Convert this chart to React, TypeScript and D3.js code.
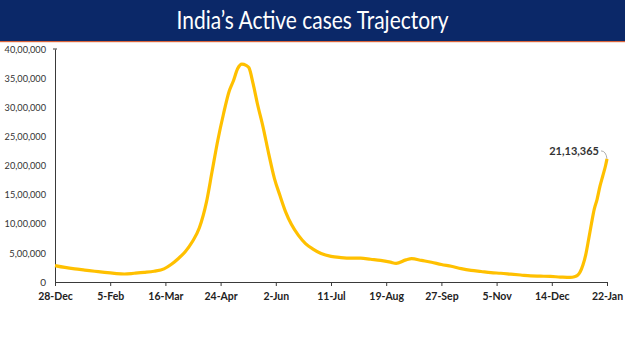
import { useEffect, useRef } from "react";
import * as d3 from "d3";

const dates = [
  "2020-12-28", "2021-01-04", "2021-01-11", "2021-01-18", "2021-01-25", "2021-02-01",
  "2021-02-08", "2021-02-15", "2021-02-22", "2021-03-01", "2021-03-08", "2021-03-15",
  "2021-03-20", "2021-03-25", "2021-03-30", "2021-04-04", "2021-04-09", "2021-04-14",
  "2021-04-18", "2021-04-22", "2021-04-26", "2021-04-30", "2021-05-03", "2021-05-06",
  "2021-05-09", "2021-05-12", "2021-05-14", "2021-05-17", "2021-05-20", "2021-05-24",
  "2021-05-28", "2021-06-01", "2021-06-05", "2021-06-09", "2021-06-13", "2021-06-18",
  "2021-06-23", "2021-06-28", "2021-07-04", "2021-07-11", "2021-07-18", "2021-07-25",
  "2021-08-01", "2021-08-08", "2021-08-15", "2021-08-22", "2021-08-26", "2021-09-02",
  "2021-09-06", "2021-09-13", "2021-09-20", "2021-09-27", "2021-10-04", "2021-10-11",
  "2021-10-18", "2021-10-25", "2021-11-01", "2021-11-08", "2021-11-15", "2021-11-22",
  "2021-11-29", "2021-12-06", "2021-12-13", "2021-12-20", "2021-12-27", "2021-12-30",
  "2022-01-01", "2022-01-03", "2022-01-05", "2022-01-07", "2022-01-09", "2022-01-11",
  "2022-01-13", "2022-01-15", "2022-01-17", "2022-01-19", "2022-01-21", "2022-01-22",
];

const activeCases = [
  282000, 250000, 225000, 205000, 185000, 165000,
  148000, 137000, 150000, 165000, 185000, 225000,
  300000, 400000, 520000, 690000, 930000, 1370000,
  1900000, 2430000, 2880000, 3270000, 3450000, 3660000,
  3740000, 3720000, 3680000, 3400000, 3060000, 2660000,
  2200000, 1780000, 1480000, 1200000, 990000, 800000,
  660000, 570000, 490000, 440000, 420000, 410000,
  410000, 390000, 370000, 340000, 320000, 380000,
  400000, 370000, 340000, 300000, 270000, 230000,
  200000, 180000, 160000, 150000, 135000, 120000,
  105000, 100000, 95000, 85000, 78000, 90000,
  110000, 170000, 290000, 470000, 730000, 1000000,
  1250000, 1420000, 1640000, 1820000, 2000000, 2113365,
];

const xTickDates = [
  "2020-12-28", "2021-02-05", "2021-03-16", "2021-04-24", "2021-06-02", "2021-07-11",
  "2021-08-19", "2021-09-27", "2021-11-05", "2021-12-14", "2022-01-22",
];

const yTicks = [0, 500000, 1000000, 1500000, 2000000, 2500000, 3000000, 3500000, 4000000];

const title = "India’s Active cases Trajectory";

// 40,00,000 style grouping
function indianFormat(n: number): string {
  const s = String(Math.round(n));
  if (s.length <= 3) return s;
  const last3 = s.slice(-3);
  let rest = s.slice(0, -3);
  const parts: string[] = [];
  while (rest.length > 2) {
    parts.unshift(rest.slice(-2));
    rest = rest.slice(0, -2);
  }
  if (rest) parts.unshift(rest);
  return parts.join(",") + "," + last3;
}

export default function App() {
  const svgRef = useRef<SVGSVGElement>(null);

  useEffect(() => {
    const W = 625;
    const H = 351;
    const svg = d3.select(svgRef.current);
    svg.selectAll("*").remove();
    svg.attr("width", W).attr("height", H).style("background", "#fff");

    const parse = d3.timeParse("%Y-%m-%d");
    const data = dates.map((d, i) => ({ date: parse(d) as Date, value: activeCases[i] }));
    const ticks = xTickDates.map((d) => parse(d) as Date);

    // title bar
    svg.append("rect").attr("x", 0).attr("y", 0).attr("width", W).attr("height", 41).attr("fill", "#0b2868");
    svg.append("rect").attr("x", 0).attr("y", 41).attr("width", W).attr("height", 1.2).attr("fill", "#d9643a");
    svg.append("text")
      .attr("x", W / 2)
      .attr("y", 29)
      .attr("text-anchor", "middle")
      .attr("fill", "#fff")
      .attr("font-family", "Lato, sans-serif")
      .attr("font-size", 25)
      .attr("textLength", 272)
      .attr("lengthAdjust", "spacingAndGlyphs")
      .text(title);

    const x = d3.scaleTime()
      .domain([ticks[0], ticks[ticks.length - 1]])
      .range([55, 607]);
    const y = d3.scaleLinear().domain([0, 4000000]).range([282, 49]);

    const xAxis = d3.axisBottom(x)
      .tickValues(ticks)
      .tickFormat((d) => d3.timeFormat("%-d-%b")(d as Date))
      .tickSizeInner(4)
      .tickSizeOuter(0);

    const gx = svg.append("g").attr("transform", "translate(0,282)").call(xAxis);
    gx.select(".domain").attr("stroke", "#3a3a3a");
    gx.selectAll(".tick line").attr("stroke", "#3a3a3a");
    gx.selectAll("text")
      .attr("fill", "#222")
      .attr("font-family", "Lato, sans-serif")
      .attr("font-weight", "bold")
      .attr("font-size", 10.5)
      .attr("dy", "1.05em");

    const yAxis = d3.axisLeft(y)
      .tickValues(yTicks)
      .tickFormat((d) => indianFormat(d as number))
      .tickSizeInner(0)
      .tickSizeOuter(0)
      .tickPadding(9);

    const gy = svg.append("g").attr("transform", "translate(55,0)").call(yAxis);
    gy.select(".domain").attr("stroke", "#3a3a3a");
    gy.selectAll("text")
      .attr("fill", "#333")
      .attr("font-family", "Lato, sans-serif")
      .attr("font-size", 10)
      .attr("textLength", (d) => (indianFormat(d as number).length > 1 ? indianFormat(d as number).length * 4.6 : null))
      .attr("lengthAdjust", "spacingAndGlyphs");
    // small mark at the top of the y axis
    svg.append("line")
      .attr("x1", 53).attr("x2", 57)
      .attr("y1", y(4000000)).attr("y2", y(4000000))
      .attr("stroke", "#3a3a3a");

    const line = d3.line<{ date: Date; value: number }>()
      .x((d) => x(d.date))
      .y((d) => y(d.value))
      .curve(d3.curveMonotoneX);

    svg.append("path")
      .datum(data)
      .attr("d", line)
      .attr("fill", "none")
      .attr("stroke", "#ffc000")
      .attr("stroke-width", 3.2)
      .attr("stroke-linejoin", "round");

    // end label
    const last = data[data.length - 1];
    const lx = x(last.date);
    const ly = y(last.value);
    svg.append("path")
      .attr("d", `M${lx - 6},${ly - 8} Q${lx - 1},${ly - 8} ${lx},${ly}`)
      .attr("fill", "none")
      .attr("stroke", "#999")
      .attr("stroke-width", 0.8);
    svg.append("text")
      .attr("x", lx - 8)
      .attr("y", ly - 4)
      .attr("text-anchor", "end")
      .attr("fill", "#333")
      .attr("font-family", "Lato, sans-serif")
      .attr("font-weight", "bold")
      .attr("font-size", 11)
      .text(indianFormat(last.value));
  }, []);

  return (
    <div style={{ position: "absolute", left: 0, top: 0 }}>
      <svg ref={svgRef} style={{ display: "block" }} />
    </div>
  );
}
